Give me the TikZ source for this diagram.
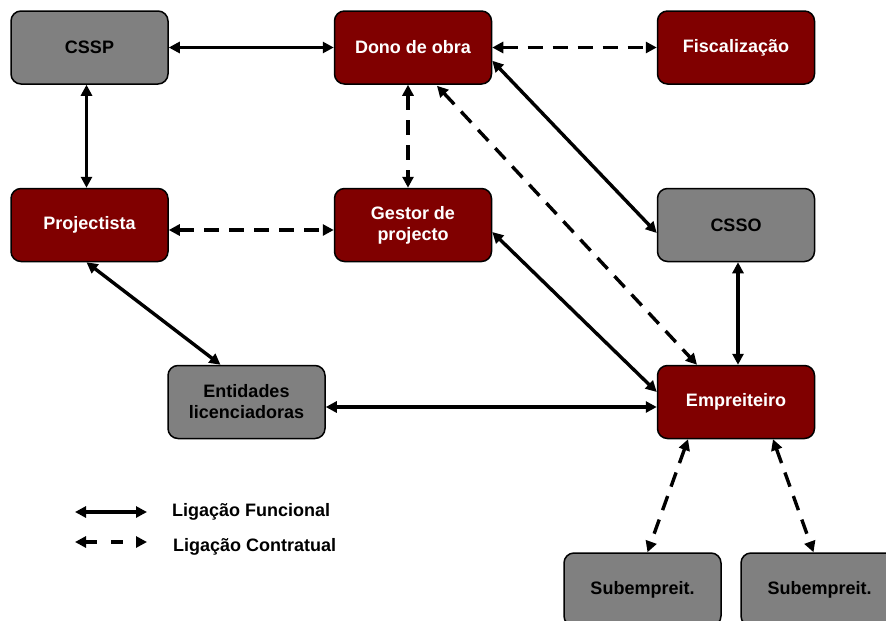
\documentclass[tikz,border=0pt]{standalone}
\usepackage{fontspec}
\setmainfont{Liberation Sans}
\usetikzlibrary{arrows.meta,calc}
\definecolor{boxred}{HTML}{800000}
\definecolor{boxgray}{HTML}{808080}
\tikzset{
  unit/.style={x=1pt,y=-1pt},
  box/.style={draw=black,line width=1.5pt,rounded corners=10pt,
    minimum width=157pt,minimum height=73pt,inner sep=0pt,align=center,
    font=\fontsize{18}{21}\selectfont\bfseries},
  redbox/.style={box,fill=boxred,text=white},
  graybox/.style={box,fill=boxgray,text=black},
  link/.style={line width=3.4pt,{Triangle[length=11pt,width=11pt]}-{Triangle[length=11pt,width=11pt]}},
  funcional/.style={link},
  contratual/.style={link,dash pattern=on 15pt off 10pt},
  legendtext/.style={anchor=base west,inner sep=0pt,font=\fontsize{18}{21}\selectfont\bfseries}
}
\begin{document}
\begin{tikzpicture}[unit]
\useasboundingbox (0,0) rectangle (886,621);
\clip (0,0) rectangle (886,621);

% actors
\node[graybox] (cssp)  at (89.5,47.5)  {CSSP};
\node[redbox]  (dono)  at (413,47.5)   {Dono de obra};
\node[redbox]  (fisc)  at (736,47.5)   {Fiscalização};
\node[redbox]  (proj)  at (89.5,225)   {Projectista};
\node[redbox]  (gest)  at (413,225)    {Gestor de\\projecto};
\node[graybox] (csso)  at (736,225)    {CSSO};
\node[graybox] (ent)   at (246.5,402)  {Entidades\\licenciadoras};
\node[redbox]  (emp)   at (736,402)    {Empreiteiro};
\node[graybox] (sub1)  at (642.5,589.5) {Subempreit.};
\node[graybox] (sub2)  at (819.5,589.5) {Subempreit.};

% functional links
\draw[funcional] (cssp.east) -- (dono.west);
\draw[funcional] ([xshift=-3pt]cssp.south) -- ([xshift=-3pt]proj.north);
\draw[funcional] ($(dono.south east)+(0,-24)$) -- ($(csso.west)+(0,8)$);
\draw[funcional] ($(gest.east)+(0,7)$) -- ($(emp.west)+(0,-10)$);
\draw[funcional] ($(proj.south)+(-3,0)$) -- ($(ent.north)+(-26,0)$);
\draw[funcional] ($(ent.east)+(0,5)$) -- ($(emp.west)+(0,5)$);
\draw[funcional] ($(csso.south)+(2,0)$) -- ($(emp.north)+(2,0)$);

% contractual links
\draw[contratual] (dono.east) -- (fisc.west);
\draw[contratual] ($(dono.south)+(-5,0)$) -- ($(gest.north)+(-5,0)$);
\draw[contratual] ($(proj.east)+(0,5)$) -- ($(gest.west)+(0,5)$);
\draw[contratual] ($(dono.south)+(24,1)$) -- ($(emp.north)+(-39,0)$);
\draw[contratual] ($(emp.south)+(-48,0)$) -- ($(sub1.north)+(5,0)$);
\draw[contratual] ($(emp.south)+(37,0)$) -- ($(sub2.north)+(-6,0)$);

% legend
\coordinate (lf1) at (75,512);
\coordinate (lf2) at (147,512);
\coordinate (lc1) at (75,542);
\coordinate (lc2) at (147,542);
\draw[funcional] (lf1) -- (lf2);
\draw[link,dash pattern=on 12pt off 14pt] (lc1) -- (lc2);
\node[legendtext] (lfun) at (172,516.5) {Ligação Funcional};
\node[legendtext] (lcon) at (173,551.5) {Ligação Contratual};
\end{tikzpicture}
\end{document}
